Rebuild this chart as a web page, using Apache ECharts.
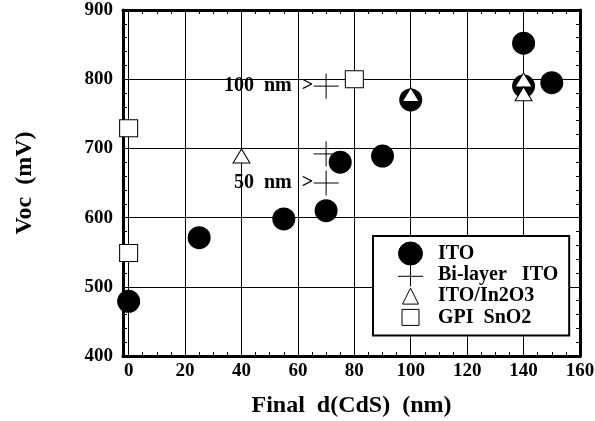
<!DOCTYPE html>
<html>
<head>
<meta charset="utf-8">
<script src="https://cdn.jsdelivr.net/npm/echarts@6/dist/echarts.min.js"></script>
<style>
  html, body { margin: 0; padding: 0; background: #fff; }
  #chart { width: 595px; height: 421px; }
</style>
</head>
<body>
<div id="chart"></div>
<script>
// Open-circuit voltage versus final CdS thickness for four window-layer types
const FONT = "'Liberation Serif', 'Times New Roman', Times, serif";

const itoX = [0, 25, 55, 70, 75, 90, 100, 140, 140, 150];
const itoY = [479, 571, 598, 610, 680, 689, 770, 852, 790, 795];

const biX = [70, 70, 70];
const biY = [790, 692, 650];
const biNotes = ['100  nm  >', '', '50  nm  >'];

const in2o3X = [40, 100, 140, 140];
const in2o3Y = [689, 778, 799, 779];

const sno2X = [0, 0, 80];
const sno2Y = [729, 549, 800];

const seriesNames = ['ITO', 'Bi-layer   ITO', 'ITO/In2O3', 'GPI  SnO2'];
const xTitle = 'Final  d(CdS)  (nm)';
const yTitle = 'Voc  (mV)';

const pairs = (xs, ys) => xs.map((x, i) => [x, ys[i]]);

// legend glyphs: a leading M0,0 M35,23 pins every path to the same 35x23 box
const legendIcons = [
  'path://M0,0M35,23M24.5,11.5A12,11.5,0,1,1,0.5,11.5A12,11.5,0,1,1,24.5,11.5Z',
  'path://M0,0M35,23M0,13H25M12.5,1.5V23',
  'path://M0,0M35,23M12.5,3.5L20.5,19.5L4.5,19.5Z',
  'path://M0,0M35,23M4,3.5H21V19.5H4Z'
];

const labelText = { fontFamily: FONT, fontWeight: 'bold', color: '#000' };

const frameX = {
  type: 'value', min: -2, max: 160, splitNumber: 8, minInterval: 20, maxInterval: 20
};

const chart = echarts.init(document.getElementById('chart'), null, { renderer: 'canvas' });

chart.setOption({
  backgroundColor: '#fff',
  animation: false,
  grid: { left: 123, right: 15, top: 10, bottom: 65, outerBoundsMode: 'none' },
  xAxis: [
    Object.assign({}, frameX, {
      position: 'bottom',
      name: xTitle,
      nameLocation: 'middle',
      nameGap: 38,
      nameTextStyle: Object.assign({ fontSize: 24 }, labelText),
      axisLine: { show: true, onZero: false, lineStyle: { color: '#000', width: 3 } },
      axisTick: { show: true, inside: true, length: 5, lineStyle: { color: '#000', width: 1 } },
      minorTick: { show: true, splitNumber: 4, length: 4, lineStyle: { color: '#000', width: 1 } },
      axisLabel: Object.assign({ fontSize: 19, margin: 6, showMinLabel: false }, labelText),
      splitLine: { show: true, lineStyle: { color: '#000', width: 1 } }
    }),
    Object.assign({}, frameX, {
      position: 'top',
      axisLine: { show: true, onZero: false, lineStyle: { color: '#000', width: 3 } },
      axisTick: { show: true, inside: true, length: 5, lineStyle: { color: '#000', width: 1 } },
      minorTick: { show: true, splitNumber: 4, length: 4, lineStyle: { color: '#000', width: 1 } },
      axisLabel: { show: false },
      splitLine: { show: false }
    })
  ],
  yAxis: [
    {
      type: 'value', min: 400, max: 900, interval: 100, position: 'left',
      name: yTitle,
      nameLocation: 'middle',
      nameGap: 86,
      nameTextStyle: Object.assign({ fontSize: 24 }, labelText),
      axisLine: { show: true, onZero: false, lineStyle: { color: '#000', width: 3 } },
      axisTick: { show: true, inside: true, length: 5, lineStyle: { color: '#000', width: 1 } },
      minorTick: { show: true, splitNumber: 5, length: 4, lineStyle: { color: '#000', width: 1 } },
      axisLabel: Object.assign({ fontSize: 19, margin: 10 }, labelText),
      splitLine: { show: true, lineStyle: { color: '#000', width: 1 } }
    },
    {
      type: 'value', min: 400, max: 900, interval: 100, position: 'right',
      axisLine: { show: true, onZero: false, lineStyle: { color: '#000', width: 3 } },
      axisTick: { show: true, inside: true, length: 5, lineStyle: { color: '#000', width: 1 } },
      minorTick: { show: true, splitNumber: 5, length: 4, lineStyle: { color: '#000', width: 1 } },
      axisLabel: { show: false },
      splitLine: { show: false }
    }
  ],
  legend: {
    orient: 'vertical',
    left: 373,
    top: 236,
    padding: [5.5, 11, 6, 24.5],
    itemGap: -2.7,
    itemWidth: 35,
    itemHeight: 23,
    backgroundColor: '#fff',
    borderColor: '#000',
    borderWidth: 2,
    borderRadius: 0,
    selectedMode: false,
    itemStyle: { borderWidth: 1, opacity: 1 },
    textStyle: Object.assign({ fontSize: 20 }, labelText),
    data: seriesNames.map((n, i) => ({ name: n, icon: legendIcons[i] }))
  },
  series: [
    {
      name: seriesNames[0], type: 'scatter', clip: false, silent: true,
      symbol: 'circle', symbolSize: 23,
      itemStyle: { color: '#000', borderColor: '#000', borderWidth: 0, opacity: 1 },
      data: pairs(itoX, itoY)
    },
    {
      name: seriesNames[1], type: 'scatter', clip: false, silent: true,
      symbol: 'path://M0,12H24M12,0V24', symbolSize: 25,
      itemStyle: { color: '#000', borderColor: '#000', borderWidth: 1, opacity: 1 },
      label: Object.assign({
        show: true, position: 'left', distance: 0, fontSize: 20,
        formatter: (p) => biNotes[p.dataIndex]
      }, labelText),
      data: pairs(biX, biY)
    },
    {
      name: seriesNames[2], type: 'scatter', clip: false, silent: true,
      symbol: 'triangle', symbolSize: [17, 14],
      itemStyle: { color: '#fff', borderColor: '#000', borderWidth: 1, opacity: 1 },
      data: pairs(in2o3X, in2o3Y)
    },
    {
      name: seriesNames[3], type: 'scatter', clip: false, silent: true,
      symbol: 'rect', symbolSize: [18, 17],
      itemStyle: { color: '#fff', borderColor: '#000', borderWidth: 1, opacity: 1 },
      data: pairs(sno2X, sno2Y)
    }
  ]
});
</script>
</body>
</html>
